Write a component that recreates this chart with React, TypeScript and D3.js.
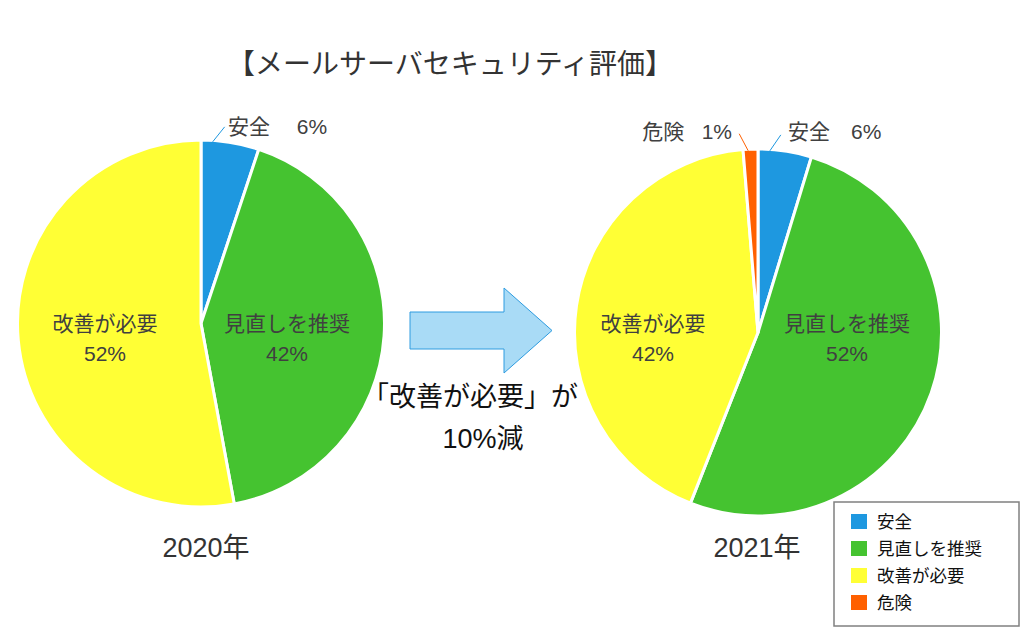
import React from "react";
import * as d3 from "d3";

// ---- data ----
const title = "【メールサーバセキュリティ評価】";
const categories = ["安全", "見直しを推奨", "改善が必要", "危険"];
const colors = ["#1E98E0", "#45C330", "#FFFF35", "#FF6000"];
const years = ["2020年", "2021年"];
// 2020: 安全, 見直しを推奨, 改善が必要
const values2020 = [5.1, 42.0, 52.9];
const labels2020 = ["6%", "42%", "52%"];
// 2021: 安全, 見直しを推奨, 改善が必要, 危険
const values2021 = [4.7, 51.3, 42.7, 1.3];
const labels2021 = ["6%", "52%", "42%", "1%"];
const arrowText1 = "「改善が必要」が";
const arrowText2 = "10%減";

// ---- layout ----
const W = 1026;
const H = 641;
const FONT = "'Liberation Sans', 'Noto Sans CJK JP', sans-serif";
const R = 183.5;

type LabelSpec =
  | { kind: "inside"; dx: number; dy: number }
  | {
      kind: "outside";
      frac: number;
      ldx: number;
      ldy: number;
      tx: number;
      ty: number;
      anchor: "start" | "end";
      sep: string;
    };

const pies = [
  {
    cx: 201,
    cy: 323.5,
    values: values2020,
    labels: labels2020,
    cats: [0, 1, 2],
    year: years[0],
    yearX: 206,
    specs: [
      { kind: "outside", frac: 0.2, ldx: 12, ldy: -15, tx: 27, ty: -190, anchor: "start", sep: "\u3000 " },
      { kind: "inside", dx: 86, dy: 7 },
      { kind: "inside", dx: -96, dy: 7 },
    ] as LabelSpec[],
  },
  {
    cx: 758,
    cy: 332.5,
    values: values2021,
    labels: labels2021,
    cats: [0, 1, 2, 3],
    year: years[1],
    yearX: 757,
    specs: [
      { kind: "outside", frac: 0.22, ldx: 11, ldy: -16, tx: 30, ty: -193.5, anchor: "start", sep: "\u3000" },
      { kind: "inside", dx: 89, dy: -1.5 },
      { kind: "inside", dx: -105, dy: -1.5 },
      { kind: "outside", frac: 0.34, ldx: -9, ldy: -17, tx: -26, ty: -193.5, anchor: "end", sep: "   " },
    ] as LabelSpec[],
  },
];

const arcGen = d3.arc<d3.PieArcDatum<number>>().innerRadius(0).outerRadius(R);
const pieGen = d3.pie<number>().sort(null).value((d) => d).startAngle(0).endAngle(2 * Math.PI);

function PieChart({ p }: { p: (typeof pies)[number] }) {
  const arcs = pieGen(p.values);
  const rEdge = R - 1.5;
  return (
    <g>
      {arcs.map((a, i) => (
        <path
          key={"s" + i}
          d={arcGen(a) || ""}
          transform={`translate(${p.cx},${p.cy})`}
          fill={colors[p.cats[i]]}
          stroke="#ffffff"
          strokeWidth={3}
          strokeLinejoin="round"
        />
      ))}
      {arcs.map((a, i) => {
        const spec = p.specs[i];
        const name = categories[p.cats[i]];
        const pct = p.labels[i];
        if (spec.kind === "inside") {
          const x = p.cx + spec.dx;
          const y = p.cy + spec.dy;
          return (
            <text key={"l" + i} x={x} textAnchor="middle" fontSize={21} fill="#404040" fontFamily={FONT}>
              <tspan x={x} y={y}>{name}</tspan>
              <tspan x={x} y={y + 30}>{pct}</tspan>
            </text>
          );
        }
        const ang = a.startAngle + spec.frac * (a.endAngle - a.startAngle);
        const x0 = p.cx + Math.sin(ang) * rEdge;
        const y0 = p.cy - Math.cos(ang) * rEdge;
        const tx = p.cx + spec.tx;
        const ty = p.cy + spec.ty;
        return (
          <g key={"l" + i}>
            <line
              x1={x0}
              y1={y0}
              x2={x0 + spec.ldx}
              y2={y0 + spec.ldy}
              stroke={colors[p.cats[i]]}
              strokeWidth={1}
            />
            <text
              x={tx}
              y={ty}
              textAnchor={spec.anchor}
              fontSize={21}
              fill="#404040"
              fontFamily={FONT}
              style={{ whiteSpace: "pre" }}
            >
              {name + spec.sep + pct}
            </text>
          </g>
        );
      })}
      <text x={p.yearX} y={557} textAnchor="middle" fontSize={27} fill="#333333" fontFamily={FONT}>
        {p.year}
      </text>
    </g>
  );
}

export default function App() {
  const arrow = d3.path();
  arrow.moveTo(410, 312);
  arrow.lineTo(504, 312);
  arrow.lineTo(504, 288);
  arrow.lineTo(552, 330.5);
  arrow.lineTo(504, 373);
  arrow.lineTo(504, 349);
  arrow.lineTo(410, 349);
  arrow.closePath();

  const legendX = 834;
  const legendY = 502;
  const rowY = (i: number) => 521.5 + i * 27;

  return (
    <svg
      width={W}
      height={H}
      style={{ position: "absolute", left: 0, top: 0, background: "#ffffff" }}
    >
      <rect x={0} y={0} width={W} height={H} fill="#ffffff" />
      <text x={450} y={74} textAnchor="middle" fontSize={28} fill="#333333" fontFamily={FONT}>
        {title}
      </text>
      {pies.map((p, i) => (
        <PieChart key={i} p={p} />
      ))}
      <path d={arrow.toString()} fill="#A9DBF6" stroke="#2E9CE0" strokeWidth={1} />
      <text x={470} y={406} textAnchor="middle" fontSize={27} fill="#111111" fontFamily={FONT}>
        {arrowText1}
      </text>
      <text x={483} y={448} textAnchor="middle" fontSize={27} fill="#111111" fontFamily={FONT}>
        {arrowText2}
      </text>
      <rect x={legendX} y={legendY} width={185} height={124} fill="#ffffff" stroke="#808080" strokeWidth={1.5} />
      {categories.map((c, i) => (
        <g key={"lg" + i}>
          <rect x={851} y={rowY(i) - 7.5} width={16} height={15} fill={colors[i]} />
          <text x={877} y={rowY(i) + 6.5} fontSize={17.5} fill="#111111" fontFamily={FONT}>
            {c}
          </text>
        </g>
      ))}
    </svg>
  );
}
